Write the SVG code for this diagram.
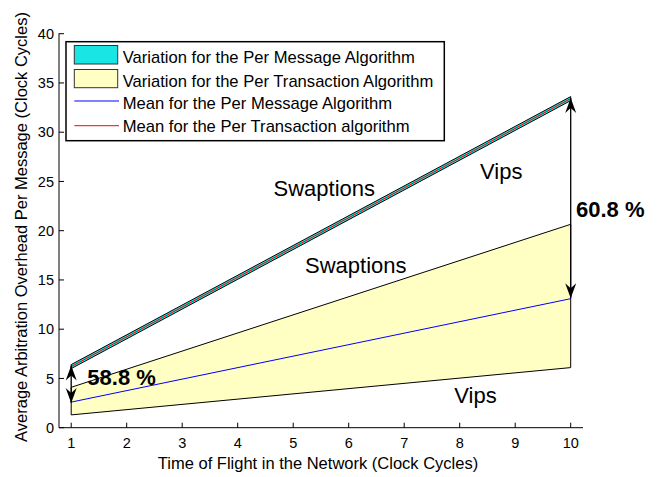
<svg xmlns="http://www.w3.org/2000/svg" width="671" height="477" viewBox="0 0 671 477">
<style>
text{font-family:"Liberation Sans",Arial,sans-serif;fill:#000}
.tick{font-size:14.5px}
.lab{font-size:16.5px}
.leg{font-size:16.6px}
.ann{font-size:22px}
.bold{font-size:22px;font-weight:bold}
.ax{stroke:#000;stroke-width:1;fill:none}
.arr{stroke:#000;stroke-width:1.3;fill:none}
</style>
<defs>
<marker id="ah" markerUnits="userSpaceOnUse" markerWidth="20" markerHeight="14" viewBox="-17 -7 18 14" refX="0" refY="0" orient="auto-start-reverse">
<path d="M0,0 L-15,-5.5 L-10,0 L-15,5.5 Z" fill="#000"/>
</marker>
</defs>
<rect width="671" height="477" fill="#fff"/>

<g id="data">
<polygon points="71.2,387.3 570.7,224.3 570.7,367.6 71.2,414.9" fill="#ffffc4" stroke="#000" stroke-width="1"/>
<line x1="71.2" y1="402.1" x2="570.7" y2="298.7" stroke="#0000ff" stroke-width="1"/>
<polygon points="71.2,364.6 570.7,96.6 570.7,100.6 71.2,368.6" fill="#1ae5e5" stroke="#000" stroke-width="1"/>
<line x1="71.2" y1="366.6" x2="570.7" y2="98.6" stroke="#ff0000" stroke-width="1"/>
</g>

<g id="axes">
<line class="ax" x1="59" y1="33.3" x2="59" y2="427.7"/>
<line class="ax" x1="59" y1="427.7" x2="583" y2="427.7"/>
<path class="ax" d="M59,427.7h5M59,378.45h5M59,329.2h5M59,279.95h5M59,230.7h5M59,181.45h5M59,132.2h5M59,82.95h5M59,33.7h5"/>
<path class="ax" d="M71.2,427.7v-5M126.7,427.7v-5M182.2,427.7v-5M237.7,427.7v-5M293.2,427.7v-5M348.7,427.7v-5M404.2,427.7v-5M459.7,427.7v-5M515.2,427.7v-5M570.7,427.7v-5"/>
<g class="tick" text-anchor="end">
<text x="54" y="432.7">0</text>
<text x="54" y="383.5">5</text>
<text x="54" y="334.2">10</text>
<text x="54" y="285">15</text>
<text x="54" y="235.7">20</text>
<text x="54" y="186.5">25</text>
<text x="54" y="137.2">30</text>
<text x="54" y="88">35</text>
<text x="54" y="38.7">40</text>
</g>
<g class="tick" text-anchor="middle">
<text x="71.2" y="447.7">1</text>
<text x="126.7" y="447.7">2</text>
<text x="182.2" y="447.7">3</text>
<text x="237.7" y="447.7">4</text>
<text x="293.2" y="447.7">5</text>
<text x="348.7" y="447.7">6</text>
<text x="404.2" y="447.7">7</text>
<text x="459.7" y="447.7">8</text>
<text x="515.2" y="447.7">9</text>
<text x="570.7" y="447.7">10</text>
</g>
<text class="lab" x="318" y="469" text-anchor="middle">Time of Flight in the Network (Clock Cycles)</text>
<text class="lab" transform="translate(26.5,227) rotate(-90)" text-anchor="middle">Average Arbitration Overhead Per Message (Clock Cycles)</text>
</g>

<g id="connectors">
<line class="arr" x1="570.7" y1="98" x2="570.7" y2="298.3" marker-start="url(#ah)" marker-end="url(#ah)"/>
<line class="arr" x1="71.2" y1="365.5" x2="71.2" y2="403" marker-start="url(#ah)" marker-end="url(#ah)"/>
</g>

<g id="labels">
<text class="ann" x="273.5" y="195.7">Swaptions</text>
<text class="ann" x="305" y="273.3">Swaptions</text>
<text class="ann" x="480" y="179">Vips</text>
<text class="ann" x="454.3" y="403.3">Vips</text>
<text class="bold" x="576" y="216.7">60.8 %</text>
<text class="bold" x="87.3" y="385">58.8 %</text>
</g>

<g id="legend">
<rect x="66" y="41.7" width="378.3" height="99" fill="#fff" stroke="#000" stroke-width="1.5"/>
<rect x="74.3" y="45.5" width="43.4" height="18.5" fill="#1ae5e5" stroke="#333" stroke-width="1"/>
<rect x="74.3" y="69.5" width="43.4" height="18.2" fill="#ffffc4" stroke="#333" stroke-width="1"/>
<line x1="74.3" y1="101" x2="119" y2="101" stroke="#0000ff" stroke-width="1"/>
<line x1="74.3" y1="125.7" x2="119" y2="125.7" stroke="#ff0000" stroke-width="1"/>
<text class="leg" x="122.7" y="63.3">Variation for the Per Message Algorithm</text>
<text class="leg" x="122.7" y="86.7">Variation for the Per Transaction Algorithm</text>
<text class="leg" x="122.7" y="109">Mean for the Per Message Algorithm</text>
<text class="leg" x="122.7" y="132.3">Mean for the Per Transaction algorithm</text>
</g>
</svg>
